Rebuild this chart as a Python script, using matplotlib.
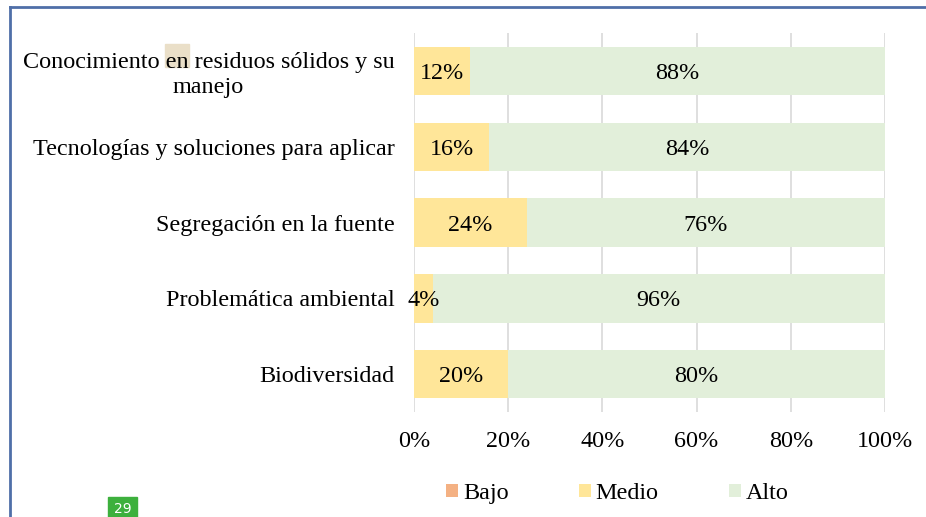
import matplotlib
matplotlib.use("Agg")
from matplotlib import pyplot as plt
from matplotlib.patches import Rectangle

plt.rcParams["font.family"] = ["Liberation Serif", "DejaVu Serif"]

categories = [
    "Conocimiento en residuos sólidos y su\nmanejo",
    "Tecnologías y soluciones para aplicar",
    "Segregación en la fuente",
    "Problemática ambiental",
    "Biodiversidad",
]
bajo = [0, 0, 0, 0, 0]
medio = [12, 16, 24, 4, 20]
alto = [88, 84, 76, 96, 80]
xticks = [0, 20, 40, 60, 80, 100]

c_bajo = "#F4B183"
c_medio = "#FFE699"
c_alto = "#E2EFDA"
fs = 17.4

fig = plt.figure(figsize=(9.26, 5.17), dpi=100)
ax = fig.add_axes([0.447, 0.203, 0.5087, 0.733])

y = list(range(len(categories)))
ax.barh(y, bajo, height=0.64, color=c_bajo, label="Bajo", zorder=2)
ax.barh(y, medio, left=bajo, height=0.64, color=c_medio, label="Medio", zorder=2)
left_alto = [b + m for b, m in zip(bajo, medio)]
ax.barh(y, alto, left=left_alto, height=0.64, color=c_alto, label="Alto", zorder=2)

for i in y:
    ax.text(bajo[i] + medio[i] / 2, i, f"{medio[i]}%", ha="center",
            va="center_baseline", fontsize=fs, zorder=3)
    ax.text(left_alto[i] + alto[i] / 2, i, f"{alto[i]}%", ha="center",
            va="center_baseline", fontsize=fs, zorder=3)

ax.set_xlim(0, 100)
ax.set_ylim(len(categories) - 0.5, -0.5)
ax.set_xticks(xticks)
ax.set_xticklabels([f"{t}%" for t in xticks], fontsize=fs)
ax.set_yticks(y)
ax.set_yticklabels(categories, fontsize=fs, multialignment="center")
ax.tick_params(axis="y", length=0, pad=14)
ax.tick_params(axis="x", length=0, pad=14)
ax.grid(axis="x", color="#D9D9D9", linewidth=1.2, zorder=0)
ax.set_axisbelow(True)
for s in ax.spines.values():
    s.set_visible(False)

ax.legend(loc="center", bbox_to_anchor=(0.432, -0.215), ncol=3, frameon=False,
          fontsize=fs, handlelength=0.5, handleheight=0.5, handletextpad=0.2,
          columnspacing=2.9)

# highlight behind "en" in the first label
fig.patches.append(Rectangle((165 / 926, 1 - 67 / 517), 24 / 926, 23 / 517,
                             transform=fig.transFigure, color="#EADFC8", zorder=-1))

# page border and page number
fig.add_artist(plt.Line2D([10 / 926, 10 / 926], [0, 1 - 7 / 517],
                          transform=fig.transFigure, color="#4F6FA8", linewidth=2))
fig.add_artist(plt.Line2D([10 / 926, 1], [1 - 7 / 517, 1 - 7 / 517],
                          transform=fig.transFigure, color="#4F6FA8", linewidth=2))
fig.patches.append(Rectangle((108 / 926, 0), 29 / 926, 20 / 517,
                             transform=fig.transFigure, color="#3DB03D", zorder=1))
fig.text(122.5 / 926, 8 / 517, "29", ha="center", va="center", color="white",
         fontsize=10, family="DejaVu Sans")

fig.savefig("out.png", dpi=100)
